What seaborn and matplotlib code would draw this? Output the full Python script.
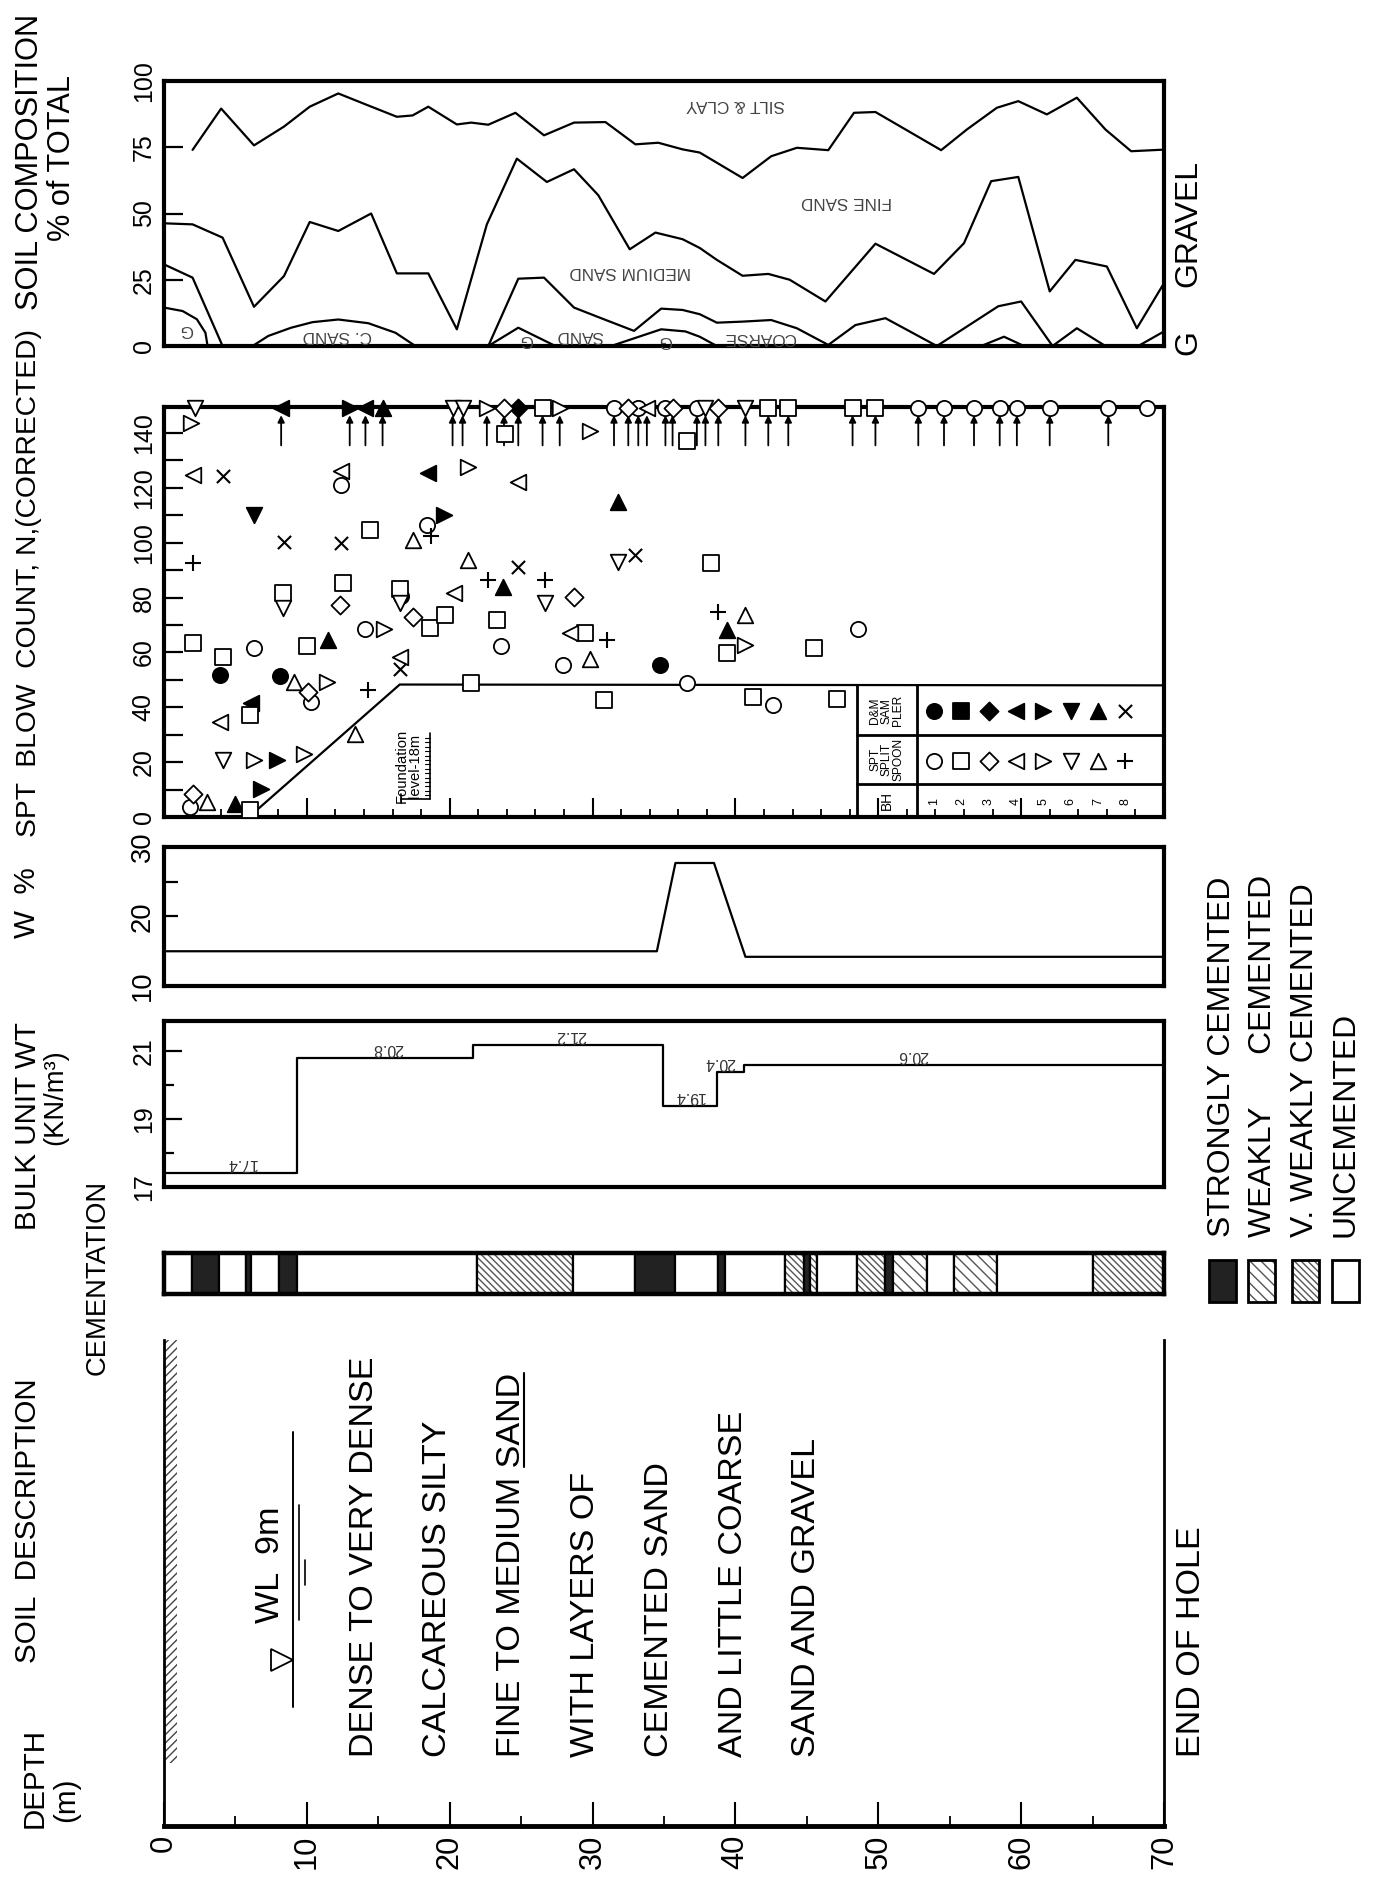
import numpy as np
import pandas as pd
import matplotlib
matplotlib.use("Agg")
import matplotlib.pyplot as plt
import seaborn as sns
from matplotlib import font_manager as fm
from matplotlib.patches import Rectangle
from matplotlib.lines import Line2D

# ============================ DATA ============================
DEPTH_MAX = 70
DEPTH_TICKS = [0, 10, 20, 30, 40, 50, 60, 70]

# Soil composition: cumulative boundary curves (% of total)
GRAVEL_D = [0, 1.3, 2.3, 2.9, 3.05, 22.7, 24.8, 27.4, 31.3, 34.8, 36.5, 37.5, 38.7, 57.2, 58.8, 60.2, 70]
GRAVEL_V = [14.5, 13.2, 10.1, 5.0, 0, 0, 6.9, 0, 0, 6.3, 5.5, 3.5, 0, 0, 3.5, 0, 0]
COARSE_D = [0, 2.0, 4.1, 6.2, 7.3, 8.9, 10.4, 12.2, 14.3, 16.2, 17.6, 22.7, 24.8, 26.6, 28.7, 30.5, 32.9,
            34.8, 36.3, 37.5, 38.7, 40.5, 42.5, 44.3, 46.5, 48.4, 50.5, 54.1, 58.4, 60.0, 62.2, 63.9, 65.9, 68.2, 70]
COARSE_V = [30.8, 25.8, 0, 0, 3.8, 6.9, 9.0, 10.0, 8.6, 5.0, 0, 0, 25.4, 25.8, 14.5, 10.7, 5.7,
            14.1, 13.6, 12.0, 8.8, 9.2, 9.8, 6.7, 0.4, 7.9, 10.5, 0, 15.0, 16.8, 0, 6.7, 0, 0, 5.5]
MEDIUM_D = [0, 2.0, 4.1, 6.3, 8.4, 10.2, 12.2, 14.5, 16.3, 18.5, 20.5, 22.6, 24.7, 26.8, 28.7, 30.4, 32.6,
            34.4, 36.3, 37.5, 38.7, 40.5, 42.3, 43.8, 46.3, 49.8, 53.9, 56.0, 57.9, 59.8, 62.0, 63.8, 66.0, 68.1, 70]
MEDIUM_V = [46.3, 45.9, 40.9, 14.8, 26.4, 46.8, 43.4, 50.0, 27.4, 27.4, 6.3, 45.9, 70.7, 61.9, 66.7, 56.9, 36.5,
            42.8, 40.3, 37.0, 32.5, 26.5, 27.2, 25.0, 16.8, 38.6, 27.2, 38.8, 62.2, 63.8, 20.6, 32.5, 30.0, 6.7, 23.7]
FINE_D = [2.0, 4.0, 6.3, 8.4, 10.2, 12.2, 14.1, 16.3, 17.4, 18.5, 20.5, 21.5, 22.7, 24.6, 26.6, 28.7, 30.9, 33.0,
          34.6, 36.3, 37.5, 40.5, 42.5, 44.3, 46.5, 48.3, 49.8, 54.4, 56.2, 58.3, 59.8, 61.8, 63.9, 65.9, 67.7, 70]
FINE_V = [74.0, 89.6, 75.7, 82.8, 90.3, 95.3, 91.2, 86.5, 87.0, 90.3, 83.6, 84.3, 83.5, 88.0, 79.5, 84.3, 84.5, 76.1,
          76.7, 74.2, 73.0, 63.4, 71.6, 74.8, 73.9, 88.0, 88.3, 73.9, 81.7, 89.9, 92.4, 87.4, 93.7, 81.7, 73.5, 74.1]
COMP_TICKS = [0, 25, 50, 75, 100]
COMP_LABELS = ["SILT & CLAY", "FINE SAND", "MEDIUM SAND", "C. SAND", "COARSE", "SAND", "G", "G", "G"]

# SPT blow count (corrected)
SPT_D = [2.0, 2.0, 1.9, 2.0, 4.1, 4.1, 3.9, 3.9, 4.1, 2.0, 1.8, 3.0, 5.0, 6.0, 6.3, 6.1, 6.0, 6.3, 7.9, 6.8,
         6.3, 8.4, 8.3, 8.3, 8.1, 9.1, 10.1, 10.3, 11.4, 9.8, 10.0, 11.5, 12.3, 12.5, 12.4, 12.4, 12.4, 13.4, 14.3, 14.1,
         15.4, 14.4, 17.4, 18.7, 18.4, 19.6, 18.5, 16.5, 16.6, 16.5, 17.4, 18.6, 16.5, 16.5, 19.7, 20.3, 21.3, 21.3, 21.5, 22.7,
         23.7, 23.3, 23.6, 24.8, 24.8, 26.7, 26.7, 28.7, 28.4, 29.5, 31.0, 27.9, 29.8, 30.8, 31.8, 31.8, 33.0, 34.7, 36.6, 38.3,
         38.8, 40.7, 39.4, 40.7, 39.4, 45.5, 48.6, 41.2, 42.6, 47.1, 23.9, 29.8, 36.6]
SPT_N = [63.3, 124.8, 143.7, 92.5, 124.2, 58.2, 51.7, 34.7, 20.7, 8.5, 3.7, 5.5, 4.9, 2.4, 110.2, 41.4, 37.1, 20.7, 20.7, 10.3,
         61.5, 100.4, 81.6, 76.1, 51.5, 49.3, 45.7, 42.0, 49.3, 23.1, 62.3, 64.5, 77.3, 85.5, 99.8, 121.0, 126.0, 30.4, 46.3, 68.4,
         68.4, 104.7, 101.0, 102.3, 106.5, 110.2, 125.4, 83.0, 80.6, 77.9, 73.0, 68.8, 58.2, 54.0, 73.7, 81.6, 93.7, 127.8, 48.7, 86.4,
         84.0, 71.8, 62.5, 122.3, 91.3, 86.4, 77.9, 80.4, 67.0, 67.0, 64.5, 55.6, 57.5, 42.6, 115.0, 93.1, 95.6, 55.4, 48.7, 92.5,
         74.9, 73.7, 68.2, 62.7, 59.8, 61.6, 68.5, 43.8, 40.8, 43.0, 139.8, 140.6, 137.0]
SPT_BH = [2, 4, 5, 8, 8, 2, 1, 4, 6, 3, 1, 7, 7, 2, 6, 4, 2, 5, 5, 5,
          1, 8, 2, 6, 1, 7, 3, 1, 5, 5, 2, 7, 3, 2, 8, 1, 4, 7, 8, 1,
          5, 2, 7, 8, 1, 5, 4, 2, 1, 6, 3, 2, 4, 8, 2, 4, 7, 5, 2, 8,
          7, 2, 1, 4, 8, 8, 6, 3, 4, 2, 8, 1, 7, 2, 7, 6, 8, 1, 1, 2,
          8, 7, 7, 5, 2, 2, 1, 2, 1, 2, 2, 5, 2]
SPT_SAMPLER = list("SSSSDSDSSS" "SSDSDDSSDD" "SDSSDSSSSS" "SDSSDSSSSS" "SSSSSDDSDS"
                   "SSSDSSSSSS" "DSSSDSSSSS" "SSSSDSDDSS" "SSDSSSSSSS" "SSS")
# refusal (N > 140) tests plotted on the top border
REF_D = [2.2, 8.2, 13.0, 14.1, 15.3, 20.2, 20.9, 22.6, 23.8, 24.8, 26.5, 27.7, 31.5, 32.5, 33.2, 33.8, 35.1,
         35.6, 37.3, 37.9, 38.8, 40.7, 42.3, 43.7, 48.2, 49.8, 52.8, 54.6, 56.7, 58.5, 59.7, 62.0, 66.1, 68.8]
REF_BH = [6, 4, 5, 4, 7, 6, 6, 5, 3, 3, 2, 5, 1, 3, 1, 4, 1, 3, 1, 6, 3, 6, 2, 2, 2, 2, 1, 1, 1, 1, 1, 1, 1, 1]
REF_SAMPLER = list("SDDDDSSSSDSSSSSSSSSSSSSSSSSSSSSSSS")
REF_ARROW = [0] + [1] * 32 + [0]
REFUSAL_N = 149
DESIGN_D = [6.6, 16.5, 70]
DESIGN_N = [3.0, 48.3, 48.0]
FOUNDATION_DEPTH = 18
SPT_TICKS = [0, 20, 40, 60, 80, 100, 120, 140]

# Water content
W_D = [0, 34.5, 35.8, 38.5, 40.7, 70]
W_V = [15.0, 15.0, 27.7, 27.7, 14.2, 14.2]
W_TICKS = [10, 20, 30]

# Bulk unit weight (kN/m3)
BULK_D = [0, 9.3, 21.6, 34.9, 38.7, 40.6, 70]
BULK_V = [17.4, 20.8, 21.2, 19.4, 20.4, 20.6, 20.6]
BULK_TICKS = [17, 19, 21]

# Cementation log
CEM_TOP = [0, 1.97, 3.87, 5.75, 6.1, 8.06, 9.28, 21.9, 28.6, 33.0, 35.8, 38.8, 39.3, 43.5, 44.8, 45.2,
           45.7, 48.5, 50.5, 51.0, 53.4, 55.3, 58.3, 65.0]
CEM_BASE = [1.97, 3.87, 5.75, 6.1, 8.06, 9.28, 21.9, 28.6, 33.0, 35.8, 38.8, 39.3, 43.5, 44.8, 45.2, 45.7,
            48.5, 50.5, 51.0, 53.4, 55.3, 58.3, 65.0, 70.0]
CEM_CLASS = ['U', 'S', 'U', 'S', 'U', 'S', 'U', 'V', 'U', 'S', 'U', 'S', 'U', 'V', 'S', 'V',
             'U', 'V', 'S', 'W', 'U', 'W', 'U', 'V']
CEM_NAMES = ["STRONGLY CEMENTED", "WEAKLY      CEMENTED", "V. WEAKLY CEMENTED", "UNCEMENTED"]

SOIL_DESC = ["DENSE TO VERY DENSE", "CALCAREOUS SILTY", "FINE TO MEDIUM SAND", "WITH LAYERS OF",
             "CEMENTED SAND", "AND LITTLE COARSE", "SAND AND GRAVEL"]
WL_DEPTH = 9

# ============================ STYLE ============================
sns.set_theme(style="white")
names = {f.name for f in fm.fontManager.ttflist}
FONT, K = "DejaVu Sans", 0.78
for nm, k in [("Liberation Sans Narrow", 1.0), ("Liberation Sans", 0.82)]:
    if nm in names:
        FONT, K = nm, k
        break
plt.rcParams["font.family"] = [FONT, "DejaVu Sans"]
plt.rcParams["text.color"] = "black"
plt.rcParams["xtick.color"] = "black"
plt.rcParams["ytick.color"] = "black"
plt.rcParams["hatch.linewidth"] = 1.0

W_PX, H_PX = 1374, 1879
X0, X1 = 164, 1164
fig = plt.figure(figsize=(W_PX / 100, H_PX / 100), dpi=100)
fig.patch.set_facecolor("white")


def px_ax(ytop, ybot):
    return fig.add_axes([X0 / W_PX, 1 - ybot / H_PX, (X1 - X0) / W_PX, (ybot - ytop) / H_PX])


def dpx(d):
    return X0 + d * (X1 - X0) / DEPTH_MAX


def ftext(x, y, s, size, ha="center", va="center", rot=90, **kw):
    kw.setdefault("color", "black")
    return fig.text(x / W_PX, 1 - y / H_PX, s, rotation=rot, rotation_mode="anchor",
                    ha=ha, va=va, fontsize=size * K, **kw)


def frame(ax, lw=3.0):
    for sp in ax.spines.values():
        sp.set_visible(True)
        sp.set_linewidth(lw)
        sp.set_color("black")
    ax.set_xlim(0, DEPTH_MAX)
    ax.set_facecolor("none")
    ax.set_xlabel("")
    ax.set_ylabel("")


def yaxis(ax, major, minor=None, length=13, minor_length=None, size=22, pad=6):
    ax.set_yticks(major)
    ax.set_yticklabels([str(v) for v in major])
    if minor is not None:
        ax.set_yticks(minor, minor=True)
    ax.tick_params(axis="y", which="major", direction="in", length=length, width=1.6, pad=pad,
                   labelsize=size * K, left=True, right=False)
    ax.tick_params(axis="y", which="minor", direction="in", length=minor_length or length, width=1.6,
                   left=True, right=False)
    for lab in ax.get_yticklabels():
        lab.set_rotation(90)
        lab.set_va("center")
        lab.set_ha("right")
    ax.tick_params(axis="x", which="both", bottom=False, top=False, labelbottom=False)


LINE = dict(color="black", linewidth=1.6, estimator=None, sort=False, legend=False)

# ---------------- soil composition ----------------
ax_c = px_ax(81, 346)
for dd, vv in [(GRAVEL_D, GRAVEL_V), (COARSE_D, COARSE_V), (MEDIUM_D, MEDIUM_V), (FINE_D, FINE_V)]:
    sns.lineplot(x=dd, y=vv, ax=ax_c, **LINE)
frame(ax_c)
ax_c.set_ylim(0, 100)
yaxis(ax_c, COMP_TICKS, length=14, size=22)
comp_pos = [(40.0, 91), (47.8, 54.6), (32.6, 28.3), (12.1, 3.8), (41.7, 3.3), (29.1, 3.8),
            (1.6, 6.3), (25.4, 2.5), (35.1, 2.0)]
for s, (d, v) in zip(COMP_LABELS, comp_pos):
    ax_c.text(d, v, s, rotation=180, ha="center", va="center", fontsize=15 * K, color="#444")
ftext(1188, 343, "G", 28)
ftext(1188, 287, "GRAVEL", 28, ha="left")

# ---------------- SPT ----------------
ax_s = px_ax(407, 817)
df = pd.DataFrame({"depth": SPT_D, "N": SPT_N, "bh": SPT_BH, "samp": SPT_SAMPLER})
ref = pd.DataFrame({"depth": REF_D, "N": [REFUSAL_N] * len(REF_D), "bh": REF_BH, "samp": REF_SAMPLER})
MK = {"S": {1: "o", 2: "s", 3: "D", 4: "<", 5: ">", 6: "v", 7: "^", 8: "+"},
      "D": {1: "o", 2: "s", 3: "D", 4: "<", 5: ">", 6: "v", 7: "^", 8: "x"}}
SZ = {"o": 120, "s": 120, "D": 85, "<": 125, ">": 125, "v": 125, "^": 125, "+": 130, "x": 90}


def mk_style(samp, bh):
    m = MK[samp][bh]
    if m in "+x":
        return dict(marker=m, color="black", edgecolor="black", linewidth=1.5, s=SZ[m])
    fc = "white" if samp == "S" else "black"
    return dict(marker=m, color=fc, edgecolor="black", linewidth=1.3, s=SZ[m])


for (samp, bh), g in df.groupby(["samp", "bh"]):
    sns.scatterplot(data=g, x="depth", y="N", ax=ax_s, legend=False, zorder=4, **mk_style(samp, bh))
for d, on in zip(REF_D, REF_ARROW):
    if on:
        ax_s.annotate("", xy=(d, 146.5), xytext=(d, 135.5),
                      arrowprops=dict(arrowstyle="-|>", color="black", lw=1.3, mutation_scale=10,
                                      shrinkA=0, shrinkB=0), annotation_clip=False)
for (samp, bh), g in ref.groupby(["samp", "bh"]):
    sns.scatterplot(data=g, x="depth", y="N", ax=ax_s, legend=False, zorder=6, clip_on=False,
                    **mk_style(samp, bh))
sns.lineplot(x=DESIGN_D, y=DESIGN_N, ax=ax_s, **LINE)
frame(ax_s)
ax_s.set_ylim(0, 149.5)
yaxis(ax_s, SPT_TICKS, minor=[10, 30, 50, 70, 90, 110, 130], length=14, size=22)
ax_s.set_xticks(DEPTH_TICKS)
ax_s.set_xticks(np.arange(0, 71, 2), minor=True)
ax_s.tick_params(axis="x", which="major", direction="in", length=14, width=1.5, bottom=True, labelbottom=False)
ax_s.tick_params(axis="x", which="minor", direction="in", length=6, width=1.3, bottom=True)

# foundation level annotation
fd = FOUNDATION_DEPTH + 0.6
ax_s.text(FOUNDATION_DEPTH - 0.9, 18.5, "Foundation\nlevel-18m", rotation=90, ha="center", va="center",
          fontsize=13 * K, linespacing=1.0)
ax_s.plot([fd, fd], [6.7, 30.5], color="black", lw=1.2)
for v in np.arange(8, 30, 1.6):
    ax_s.plot([fd - 0.3, fd], [v, v], color="black", lw=0.8)
ax_s.plot([fd - 2.0, fd], [6.7, 6.7], color="black", lw=1.2)
ax_s.plot([fd - 2.0, fd - 2.0], [5.0, 8.5], color="black", lw=1.2)

# legend table
TL, TM, TR = 48.5, 52.7, 70
ROWS = [48.0, 29.8, 12.2, 0]
ax_s.plot([TL, TL], [0, ROWS[0]], color="black", lw=2)
ax_s.plot([TM, TM], [0, ROWS[0]], color="black", lw=2)
for r in ROWS[1:3]:
    ax_s.plot([TL, TR], [r, r], color="black", lw=2)
ax_s.text((TL + TM) / 2, 38.8, "D&M\nSAM\nPLER", rotation=90, ha="center", va="center", fontsize=10.5 * K,
          linespacing=0.95)
ax_s.text((TL + TM) / 2, 21.0, "SPT\nSPLIT\nSPOON", rotation=90, ha="center", va="center", fontsize=10.5 * K,
          linespacing=0.95)
ax_s.text((TL + TM) / 2, 6.0, "BH", rotation=90, ha="center", va="center", fontsize=12 * K)
xs = np.linspace(53.9, 67.3, 8)
for i, bh in enumerate(range(1, 9)):
    for samp, yv in [("D", 38.5), ("S", 20.5)]:
        st = mk_style(samp, bh)
        ax_s.scatter([xs[i]], [yv], zorder=5, marker=st["marker"], s=st["s"], c=st["color"],
                     edgecolors=st["edgecolor"], linewidths=st["linewidth"])
    ax_s.text(xs[i], 5.5, str(bh), rotation=90, ha="center", va="center", fontsize=11 * K)

# ---------------- W % ----------------
ax_w = px_ax(847, 986)
sns.lineplot(x=W_D, y=W_V, ax=ax_w, **LINE)
frame(ax_w)
ax_w.set_ylim(10, 30)
yaxis(ax_w, W_TICKS, minor=[25], length=10, size=24)

# ---------------- bulk unit weight ----------------
ax_b = px_ax(1021, 1187)
sns.lineplot(x=BULK_D, y=BULK_V, ax=ax_b, drawstyle="steps-post", **LINE)
frame(ax_b)
ax_b.set_ylim(17, 21.9)
yaxis(ax_b, BULK_TICKS, minor=[18, 20], length=13, minor_length=7, size=22)
for d, v in zip([5.4, 15.7, 28.5, 36.8, 38.9, 52.4], BULK_V[:-1]):
    ax_b.text(d, v + 0.28, f"{v:.1f}", rotation=180, ha="center", va="center", fontsize=14 * K, color="#333")

# ---------------- cementation ----------------
ax_k = px_ax(1253, 1294)
FILL = {"S": dict(facecolor="#222222", hatch=None), "W": dict(facecolor="white", hatch="\\\\\\"),
        "V": dict(facecolor="white", hatch="\\\\\\\\\\"), "U": dict(facecolor="white", hatch=None)}
for t, b, c in zip(CEM_TOP, CEM_BASE, CEM_CLASS):
    ax_k.add_patch(Rectangle((t, 0), b - t, 1, facecolor=FILL[c]["facecolor"], hatch=FILL[c]["hatch"],
                             edgecolor="#555555" if c in "WV" else "black", lw=0))
    ax_k.add_patch(Rectangle((t, 0), b - t, 1, fill=False, edgecolor="black", lw=1.6))
frame(ax_k, lw=3.2)
ax_k.set_ylim(0, 1)
ax_k.set_xticks([])
ax_k.set_yticks([])
for i, c in enumerate(["S", "W", "V", "U"]):
    xl = [1209, 1248, 1292, 1332][i]
    fig.add_artist(Rectangle((xl / W_PX, 1 - 1302 / H_PX), 27 / W_PX, 42 / H_PX, transform=fig.transFigure,
                             facecolor=FILL[c]["facecolor"], hatch=FILL[c]["hatch"],
                             edgecolor="#555555" if c in "WV" else "black", lw=0))
    fig.add_artist(Rectangle((xl / W_PX, 1 - 1302 / H_PX), 27 / W_PX, 42 / H_PX, transform=fig.transFigure,
                             fill=False, edgecolor="black", lw=2))
    ftext([1222, 1263, 1305, 1346][i], 1237, CEM_NAMES[i], 28, ha="left")

# ---------------- soil description / depth axis ----------------
ax_d = px_ax(1340, 1826)
frame(ax_d)
ax_d.spines["top"].set_visible(False)
ax_d.spines["left"].set_linewidth(2.0)
ax_d.spines["right"].set_linewidth(2.0)
ax_d.spines["bottom"].set_linewidth(3.5)
ax_d.set_ylim(0, 1)
ax_d.set_yticks([])
ax_d.set_xticks(DEPTH_TICKS)
ax_d.set_xticklabels([str(v) for v in DEPTH_TICKS])
ax_d.set_xticks(np.arange(5, 70, 10), minor=True)
ax_d.tick_params(axis="x", which="major", direction="in", length=17, width=1.5, pad=6,
                 labelsize=27 * K, labelrotation=90, bottom=True)
ax_d.tick_params(axis="x", which="minor", direction="in", length=7, width=1.3, bottom=True)
ax_d.add_patch(Rectangle((0, 0.13), 0.9, 0.87, fill=False, hatch="////", edgecolor="#444444", lw=0))

text_objs = []
for i, s in enumerate(SOIL_DESC):
    text_objs.append(ftext(364 + i * 73.8, 1757, s, 30, ha="left"))
ftext(1191, 1757, "END OF HOLE", 30, ha="left")

# water level
xw = dpx(WL_DEPTH)
fig.add_artist(Line2D([xw / W_PX] * 2, [1 - 1432 / H_PX, 1 - 1707 / H_PX], transform=fig.transFigure,
                      color="black", lw=1.4))
fig.add_artist(Line2D([(xw + 6) / W_PX] * 2, [1 - 1505 / H_PX, 1 - 1620 / H_PX], transform=fig.transFigure,
                      color="black", lw=1.2))
fig.add_artist(Line2D([(xw + 12) / W_PX] * 2, [1 - 1560 / H_PX, 1 - 1585 / H_PX], transform=fig.transFigure,
                      color="black", lw=1.2))
fig.add_artist(Line2D([(xw - 11) / W_PX], [1 - 1660 / H_PX], transform=fig.transFigure, marker=">",
                      markersize=16, markerfacecolor="white", markeredgecolor="black", markeredgewidth=1.3,
                      linestyle="none"))
ftext(xw - 22, 1623, f"WL  {WL_DEPTH}m", 30, ha="left")

# headers
ftext(30, 310, "SOIL COMPOSITION", 27, ha="left")
ftext(62, 158, "% of TOTAL", 27)
ftext(29, 837, "SPT  BLOW  COUNT, N,(CORRECTED)", 24.8, ha="left")
ftext(27, 903, "W  %", 26)
ftext(28, 1230, "BULK UNIT WT", 26, ha="left")
ftext(55, 1097, "(KN/m³)", 24)
ftext(98, 1277, "CEMENTATION", 24)
ftext(28, 1663, "SOIL  DESCRIPTION", 26, ha="left")
ftext(35, 1778, "DEPTH", 26)
ftext(66, 1800, "(m)", 26)

# underline "SAND" in the third description line
fig.canvas.draw()
rend = fig.canvas.get_renderer()
t3 = text_objs[2]
bb = t3.get_window_extent(rend)
tmp = fig.text(0, 0, "SAND", fontsize=t3.get_fontsize())
wl = tmp.get_window_extent(rend).width
tmp.remove()
xu = bb.x1 - 3
fig.add_artist(Line2D([xu / W_PX] * 2, [(bb.y1 - wl) / H_PX, bb.y1 / H_PX], transform=fig.transFigure,
                      color="black", lw=1.5))

fig.savefig("out.png", dpi=100, facecolor="white")
